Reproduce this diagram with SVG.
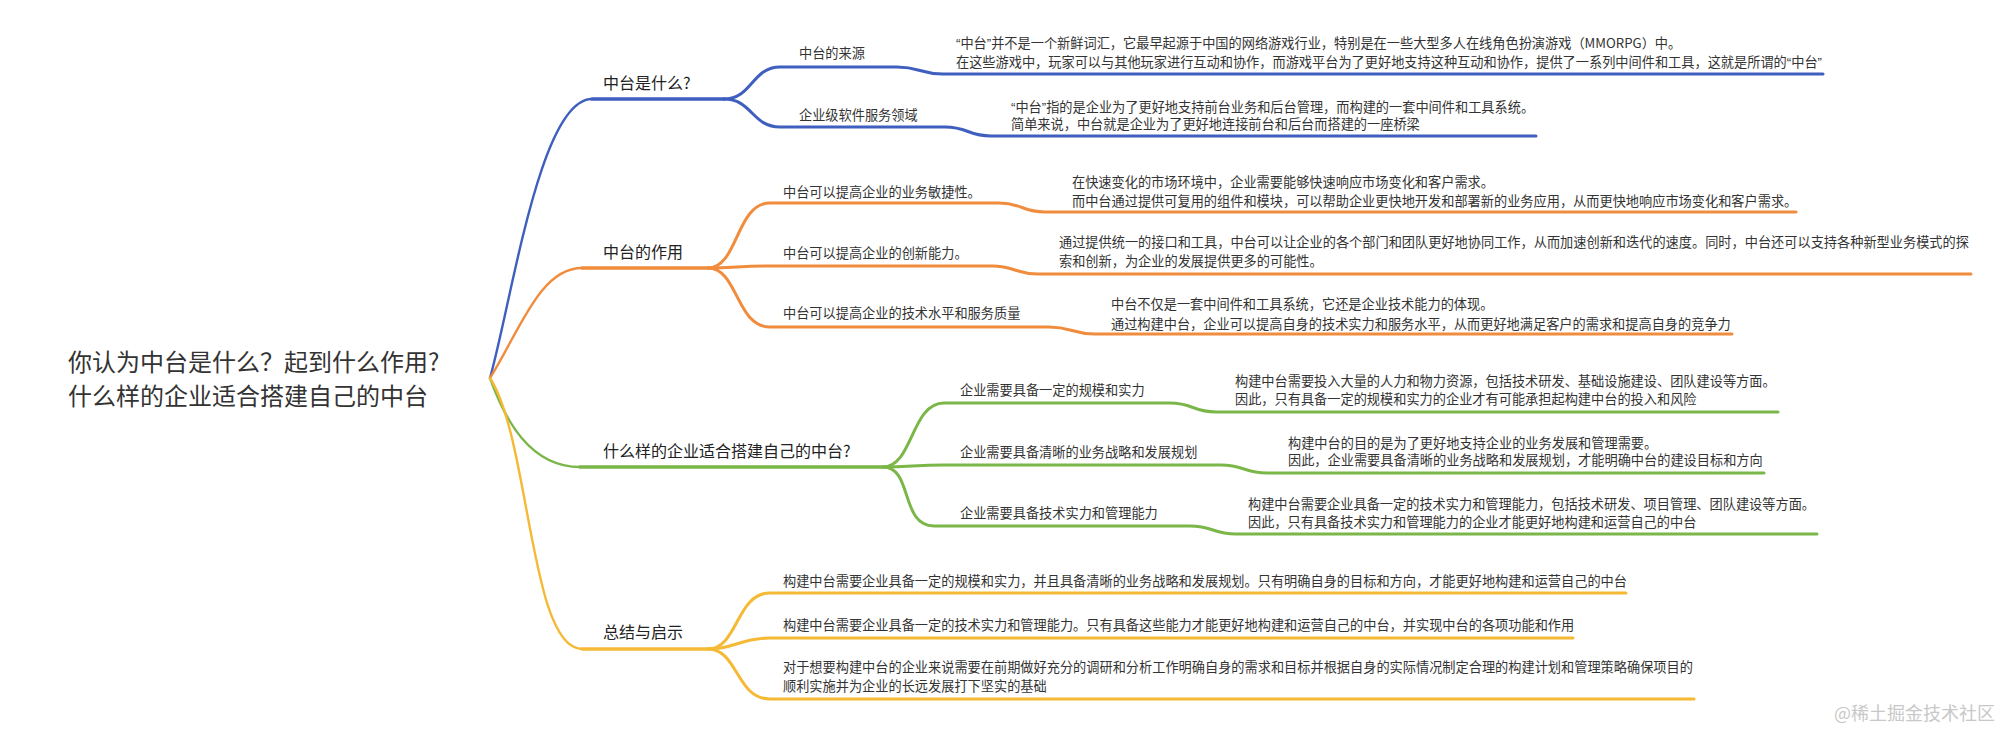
<svg xmlns="http://www.w3.org/2000/svg" width="1998" height="731" viewBox="0 0 1998 731">
<style>
text{font-family:"Noto Sans CJK SC","Noto Sans",sans-serif;}
.q{font-family:"Liberation Sans","Noto Sans CJK SC",sans-serif;}
.root{font-size:24px;fill:#333;}
.l1{font-size:16px;fill:#222;}
.l2{font-size:13.2px;fill:#333;}
.wm{font-size:18px;fill:#c8c8c8;}
.c{fill:none;stroke-linecap:round;stroke-linejoin:round;}
.rc{stroke-width:2.4;}
.h1{stroke-width:3.5;}
.h2{stroke-width:3;}
.blue{stroke:#3f5fbf;}
.orange{stroke:#f08c3c;}
.green{stroke:#7ab648;}
.yellow{stroke:#f5b935;}
</style>
<rect width="1998" height="731" fill="#fff"/>
<g id="connectors">
<path class="c rc blue" d="M490,378 C512,300 540,99 592,99"/>
<path class="c h1 blue" d="M592,99 L724,99"/>
<path class="c h2 blue" d="M724,99 C752,99 752,67 780,67 L897,67 C920,67 920,74 943,74 L1823,74"/>
<path class="c h2 blue" d="M724,99 C752,99 752,127 780,127 L945,127 C968,127 968,136 991,136 L1536,136"/>
<path class="c rc orange" d="M490,378 C520,330 540,268 582,268"/>
<path class="c h1 orange" d="M582,268 L708,268"/>
<path class="c h2 orange" d="M708,268 C738,268 736,203 770,203 L999,203 C1022,203 1022,212 1045,212 L1796,212"/>
<path class="c h2 orange" d="M708,268 C735,268 740,266 770,266 L992,266 C1015,266 1015,274 1038,274 L1971,274"/>
<path class="c h2 orange" d="M708,268 C738,268 736,327 770,327 L1049,327 C1072,327 1072,334 1095,334 L1732,334"/>
<path class="c rc green" d="M490,378 C505,420 530,467 580,467"/>
<path class="c h1 green" d="M580,467 L883,467"/>
<path class="c h2 green" d="M883,467 C913,467 911,403 944,403 L1170,403 C1193,403 1193,412 1216,412 L1778,412"/>
<path class="c h2 green" d="M883,467 C910,467 915,465 944,465 L1221,465 C1244,465 1244,473 1267,473 L1764,473"/>
<path class="c h2 green" d="M883,467 C913,467 900,526 934,526 L1190,526 C1213,526 1213,534 1236,534 L1817,534"/>
<path class="c rc yellow" d="M490,378 C530,440 530,649 582,649"/>
<path class="c h1 yellow" d="M582,649 L708,649"/>
<path class="c h2 yellow" d="M708,649 C738,649 736,593 770,593 L1626,593"/>
<path class="c h2 yellow" d="M708,649 C735,649 740,638 770,638 L1573,638"/>
<path class="c h2 yellow" d="M708,649 C738,649 736,699 770,699 L1694,699"/>
</g>
<g id="root">
<text class="root" x="68" y="371">你认为中台是什么？起到什么作用?</text>
<text class="root" x="68" y="405">什么样的企业适合搭建自己的中台</text>
</g>
<g id="n1">
<text class="l1" x="603" y="89">中台是什么?</text>
</g>
<g id="n1-1">
<text class="l2" x="799" y="58">中台的来源</text>
</g>
<g id="n1-1-1">
<text class="l2" x="956" y="48"><tspan class="q">“</tspan>中台<tspan class="q">”</tspan>并不是一个新鲜词汇，它最早起源于中国的网络游戏行业，特别是在一些大型多人在线角色扮演游戏（MMORPG）中。</text>
<text class="l2" x="956" y="67">在这些游戏中，玩家可以与其他玩家进行互动和协作，而游戏平台为了更好地支持这种互动和协作，提供了一系列中间件和工具，这就是所谓的<tspan class="q">“</tspan>中台<tspan class="q">”</tspan></text>
</g>
<g id="n1-2">
<text class="l2" x="799" y="120">企业级软件服务领域</text>
</g>
<g id="n1-2-1">
<text class="l2" x="1011" y="112"><tspan class="q">“</tspan>中台<tspan class="q">”</tspan>指的是企业为了更好地支持前台业务和后台管理，而构建的一套中间件和工具系统。</text>
<text class="l2" x="1011" y="129">简单来说，中台就是企业为了更好地连接前台和后台而搭建的一座桥梁</text>
</g>
<g id="n2">
<text class="l1" x="603" y="258">中台的作用</text>
</g>
<g id="n2-1">
<text class="l2" x="783" y="197">中台可以提高企业的业务敏捷性。</text>
</g>
<g id="n2-1-1">
<text class="l2" x="1072" y="187">在快速变化的市场环境中，企业需要能够快速响应市场变化和客户需求。</text>
<text class="l2" x="1072" y="206">而中台通过提供可复用的组件和模块，可以帮助企业更快地开发和部署新的业务应用，从而更快地响应市场变化和客户需求。</text>
</g>
<g id="n2-2">
<text class="l2" x="783" y="258">中台可以提高企业的创新能力。</text>
</g>
<g id="n2-2-1">
<text class="l2" x="1059" y="247">通过提供统一的接口和工具，中台可以让企业的各个部门和团队更好地协同工作，从而加速创新和迭代的速度。同时，中台还可以支持各种新型业务模式的探</text>
<text class="l2" x="1059" y="266">索和创新，为企业的发展提供更多的可能性。</text>
</g>
<g id="n2-3">
<text class="l2" x="783" y="318">中台可以提高企业的技术水平和服务质量</text>
</g>
<g id="n2-3-1">
<text class="l2" x="1111" y="309">中台不仅是一套中间件和工具系统，它还是企业技术能力的体现。</text>
<text class="l2" x="1111" y="329">通过构建中台，企业可以提高自身的技术实力和服务水平，从而更好地满足客户的需求和提高自身的竞争力</text>
</g>
<g id="n3">
<text class="l1" x="603" y="457">什么样的企业适合搭建自己的中台?</text>
</g>
<g id="n3-1">
<text class="l2" x="960" y="395">企业需要具备一定的规模和实力</text>
</g>
<g id="n3-1-1">
<text class="l2" x="1235" y="386">构建中台需要投入大量的人力和物力资源，包括技术研发、基础设施建设、团队建设等方面。</text>
<text class="l2" x="1235" y="404">因此，只有具备一定的规模和实力的企业才有可能承担起构建中台的投入和风险</text>
</g>
<g id="n3-2">
<text class="l2" x="960" y="457">企业需要具备清晰的业务战略和发展规划</text>
</g>
<g id="n3-2-1">
<text class="l2" x="1288" y="448">构建中台的目的是为了更好地支持企业的业务发展和管理需要。</text>
<text class="l2" x="1288" y="465">因此，企业需要具备清晰的业务战略和发展规划，才能明确中台的建设目标和方向</text>
</g>
<g id="n3-3">
<text class="l2" x="960" y="518">企业需要具备技术实力和管理能力</text>
</g>
<g id="n3-3-1">
<text class="l2" x="1248" y="509">构建中台需要企业具备一定的技术实力和管理能力，包括技术研发、项目管理、团队建设等方面。</text>
<text class="l2" x="1248" y="527">因此，只有具备技术实力和管理能力的企业才能更好地构建和运营自己的中台</text>
</g>
<g id="n4">
<text class="l1" x="603" y="638">总结与启示</text>
</g>
<g id="n4-1">
<text class="l2" x="783" y="586">构建中台需要企业具备一定的规模和实力，并且具备清晰的业务战略和发展规划。只有明确自身的目标和方向，才能更好地构建和运营自己的中台</text>
</g>
<g id="n4-2">
<text class="l2" x="783" y="630">构建中台需要企业具备一定的技术实力和管理能力。只有具备这些能力才能更好地构建和运营自己的中台，并实现中台的各项功能和作用</text>
</g>
<g id="n4-3">
<text class="l2" x="783" y="672">对于想要构建中台的企业来说需要在前期做好充分的调研和分析工作明确自身的需求和目标并根据自身的实际情况制定合理的构建计划和管理策略确保项目的</text>
<text class="l2" x="783" y="691">顺利实施并为企业的长远发展打下坚实的基础</text>
</g>
<g id="watermark">
<text class="wm" x="1834" y="720">@稀土掘金技术社区</text>
</g>
</svg>
